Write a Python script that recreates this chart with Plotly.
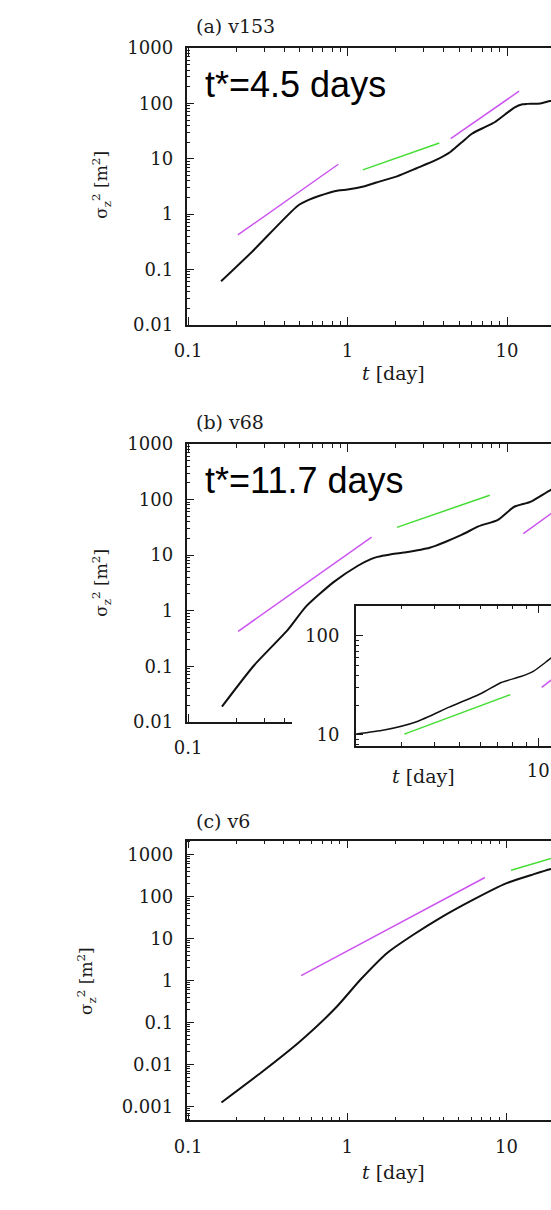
import plotly.graph_objects as go

W, H = 551, 1210

# ---------------- data ----------------
# Panel (a) v153
a_t = [0.161, 0.252, 0.487, 0.57, 0.66, 0.875, 1.0, 1.28, 1.6, 2.04, 2.71, 3.59, 4.43, 5.23, 6.02, 7.26, 8.36, 10.1, 11.1, 12.5, 13.4, 16.2, 18.6, 20.0]
a_s = [0.061, 0.209, 1.41, 1.8, 2.12, 2.67, 2.78, 3.19, 3.9, 4.81, 6.74, 9.5, 13.4, 20.1, 28.3, 37.2, 45.6, 68.7, 84, 96.4, 98, 100, 110, 112]
a_mag1_t, a_mag1_s = [0.205, 0.875], [0.42, 7.95]
a_grn_t, a_grn_s = [1.246, 3.76], [6.3, 19.3]
a_mag2_t, a_mag2_s = [4.43, 11.9], [23, 166]

# Panel (b) v68
b_t = [0.163, 0.258, 0.423, 0.548, 0.817, 1.16, 1.40, 1.54, 1.85, 2.24, 3.27, 5.22, 6.61, 8.77, 11.1, 14.0, 18.6, 20.0]
b_s = [0.0187, 0.102, 0.455, 1.18, 3.26, 6.44, 8.46, 9.3, 10.3, 11.1, 13.6, 23.4, 32.9, 43.2, 74.3, 91, 147, 160]
b_mag1_t, b_mag1_s = [0.206, 1.415], [0.425, 21]
b_grn_t, b_grn_s = [2.04, 7.79], [31.6, 120]
b_mag2_t, b_mag2_s = [12.65, 19.5], [24.4, 60]

# Inset of panel (b)
in_t = [2.01, 2.57, 3.42, 4.56, 6.07, 7.21, 8.57, 9.6, 10.8, 11.2, 12.0]
in_s = [10.2, 11.2, 13.6, 19.1, 26.4, 33.9, 38.9, 44.2, 55.6, 60, 68]
in_grn_t, in_grn_s = [3.07, 7.81], [10.2, 25.5]
in_mag_t, in_mag_s = [10.3, 12.0], [30.3, 41]

# Panel (c) v6
c_t = [0.162, 0.299, 0.5, 0.841, 1.225, 1.79, 2.6, 3.8, 6.07, 9.96, 14.9, 18.8, 20.0]
c_s = [0.00125, 0.0072, 0.0344, 0.218, 1.1, 4.6, 12.3, 30.3, 81, 206, 341, 447, 470]
c_mag_t, c_mag_s = [0.513, 7.33], [1.31, 284]
c_grn_t, c_grn_s = [10.7, 20.0], [423, 850]

panel_titles = ["(a) v153", "(b) v68", "(c) v6"]
tstar_labels = ["t*=4.5 days", "t*=11.7 days"]
ytitle = "σ<sub>z</sub><sup>2</sup> [m<sup>2</sup>]"
xtitle = "<i>t</i> [day]"

# ---------------- styling ----------------
BLACK = "#111111"
MAG = "#cc55f0"
GRN = "#44dd33"
AX = "#1a1a1a"
SERIF = "DejaVu Serif"


def px(x):
    return x / W


def py(y):
    return 1 - y / H


def axis(rng, dom, **kw):
    d = dict(type="log", range=rng, domain=dom, showline=True, linecolor=AX, linewidth=1.5,
             ticks="inside", ticklen=8, tickwidth=1.2, tickcolor=AX, dtick=1,
             exponentformat="none", showgrid=False, zeroline=False, ticklabeloverflow="allow",
             minor=dict(ticks="inside", ticklen=4, tickwidth=1, tickcolor=AX, dtick="D1", showgrid=False),
             tickfont=dict(family=SERIF, size=18, color=AX))
    d.update(kw)
    return d


fig = go.Figure()


def line(x, y, color, width, xa, ya):
    fig.add_trace(go.Scatter(x=x, y=y, mode="lines",
                             line=dict(color=color, width=width, shape="spline", smoothing=0.6),
                             xaxis=xa, yaxis=ya, showlegend=False, hoverinfo="skip"))


# panel a
line(a_t, a_s, BLACK, 2, "x", "y")
line(a_mag1_t, a_mag1_s, MAG, 1.5, "x", "y")
line(a_grn_t, a_grn_s, GRN, 1.5, "x", "y")
line(a_mag2_t, a_mag2_s, MAG, 1.5, "x", "y")
# panel b
line(b_t, b_s, BLACK, 2, "x2", "y2")
line(b_mag1_t, b_mag1_s, MAG, 1.5, "x2", "y2")
line(b_grn_t, b_grn_s, GRN, 1.5, "x2", "y2")
line(b_mag2_t, b_mag2_s, MAG, 1.5, "x2", "y2")
# panel c
line(c_t, c_s, BLACK, 2, "x3", "y3")
line(c_mag_t, c_mag_s, MAG, 1.5, "x3", "y3")
line(c_grn_t, c_grn_s, GRN, 1.5, "x3", "y3")
# inset
line(in_t, in_s, BLACK, 1.5, "x4", "y4")
line(in_grn_t, in_grn_s, GRN, 1.5, "x4", "y4")
line(in_mag_t, in_mag_s, MAG, 1.5, "x4", "y4")
# stub axis for the visible part of the (b) bottom axis
fig.add_trace(go.Scatter(x=[], y=[], xaxis="x5", yaxis="y2", showlegend=False, hoverinfo="skip"))

XL = 177.7          # left edge of the main panels (px)
XR = W              # right edge of the figure (px)
xr_ab = [-1.01, (XR - 342.7) / 163.3]
xr_c = [-1.01, (XR - 342.3) / 163.0]
xdom = [px(XL), 1.0]

fig.update_layout(
    width=W, height=H, autosize=False,
    margin=dict(l=0, r=0, t=0, b=0),
    paper_bgcolor="white", plot_bgcolor="rgba(0,0,0,0)",
    showlegend=False,
    xaxis=axis(xr_ab, xdom, anchor="y", mirror="ticks", ticklabelstandoff=9),
    yaxis=axis([-2, 3], [py(319.3), py(37.7)], anchor="x", ticklabelstandoff=8),
    xaxis2=axis(xr_ab, xdom, anchor="y2", side="top", showticklabels=False),
    yaxis2=axis([-2, 3], [py(723.3), py(440.7)], anchor="x2", ticklabelstandoff=8),
    xaxis3=axis(xr_c, xdom, anchor="y3", mirror="ticks", ticklabelstandoff=9),
    yaxis3=axis([-3.33, 3.33], [py(1129), py(844.3)], anchor="x3", ticklabelstandoff=8),
    xaxis4=axis([0.30103, 0.30103 + (XR - 351) / 267.5], [px(351), 1.0], anchor="y4",
                mirror="ticks", ticklabelstandoff=8),
    yaxis4=axis([0.891, 2.308], [py(747.7), py(605)], anchor="x4", ticklabelstandoff=11),
    xaxis5=axis([-1.01, -1.01 + (286 - XL) / 163.3], [px(XL), px(286)], anchor="y2", ticklabelstandoff=9),
)

ann = []
for txt, yc in zip(panel_titles, [15.5, 418, 824]):
    ann.append(dict(text=txt, x=px(185), y=py(yc), xanchor="left", yanchor="middle",
                    font=dict(family=SERIF, size=19, color=AX)))
for txt, yc in zip(tstar_labels, [75, 478]):
    ann.append(dict(text=txt, x=px(195), y=py(yc), xanchor="left", yanchor="middle",
                    font=dict(family="Liberation Sans", size=36, color="black")))
for xc, yc in [(91, 177), (91, 582), (76, 987)]:
    ann.append(dict(text=ytitle, x=px(xc), y=py(yc), xanchor="center", yanchor="middle",
                    textangle=-90, font=dict(family=SERIF, size=17, color=AX)))
for xc, yc in [(390, 368), (420, 779), (390, 1181)]:
    ann.append(dict(text=xtitle, x=px(xc), y=py(yc), xanchor="center", yanchor="middle",
                    font=dict(family=SERIF, size=19, color=AX)))
for a in ann:
    a.update(xref="paper", yref="paper", showarrow=False)
fig.update_layout(annotations=ann)

fig.write_html("out.html", config={"displayModeBar": False})
